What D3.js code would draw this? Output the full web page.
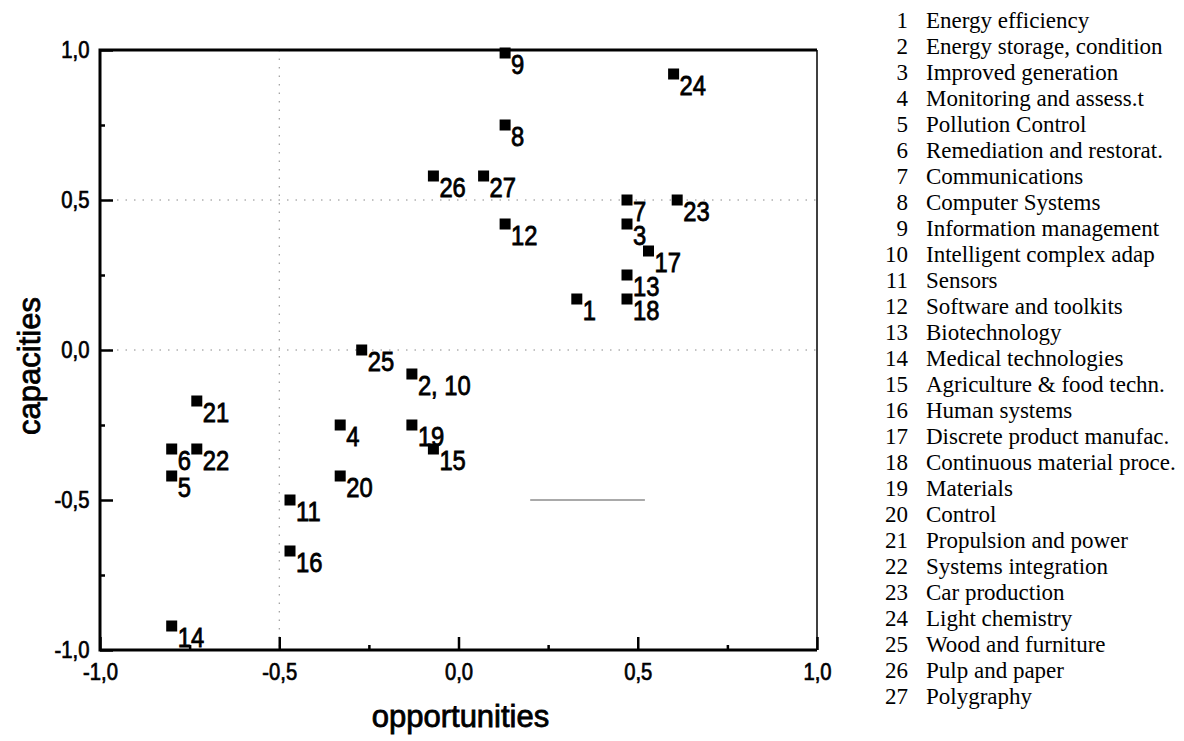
<!DOCTYPE html>
<html>
<head>
<meta charset="utf-8">
<script src="https://cdn.jsdelivr.net/npm/d3@7"></script>
<style>
  body { margin: 0; background: #fff; }
  svg { display: block; }
</style>
</head>
<body>
<div id="chart"></div>
<script>
// point labels as printed next to the squares
var labels = ["9", "24", "8", "26", "27", "7", "23", "12", "3", "17", "13", "18", "1",
              "25", "2, 10", "19", "15", "21", "6", "22", "5", "4", "20", "11", "16", "14"];
var opportunities = [0.13, 0.60, 0.13, -0.07, 0.07, 0.47, 0.61, 0.13, 0.47, 0.53, 0.47, 0.47, 0.33,
                     -0.27, -0.13, -0.13, -0.07, -0.73, -0.80, -0.73, -0.80, -0.33, -0.33, -0.47, -0.47, -0.80];
var capacities = [0.99, 0.92, 0.75, 0.58, 0.58, 0.50, 0.50, 0.42, 0.42, 0.33, 0.25, 0.17, 0.17,
                  0.00, -0.08, -0.25, -0.33, -0.17, -0.33, -0.33, -0.42, -0.25, -0.42, -0.50, -0.67, -0.92];

var majorTicks = [-1, -0.5, 0, 0.5, 1];
var minorTicks = [-0.75, -0.25, 0.25, 0.75];
var gridX = [-0.5];
var gridY = [0.5, 0];
// the -0.5 line only shows as a short stroke in the print
var gridSegY = [-0.5], gridSegFrom = [0.2], gridSegTo = [0.52];

var legendNames = ["Energy efficiency", "Energy storage, condition", "Improved generation",
  "Monitoring and assess.t", "Pollution Control", "Remediation and restorat.", "Communications",
  "Computer Systems", "Information management", "Intelligent complex adap", "Sensors",
  "Software and toolkits", "Biotechnology", "Medical technologies", "Agriculture & food techn.",
  "Human systems", "Discrete product manufac.", "Continuous material proce.", "Materials",
  "Control", "Propulsion and power", "Systems integration", "Car production",
  "Light chemistry", "Wood and furniture", "Pulp and paper", "Polygraphy"];

var width = 1184, height = 741;
var plotL = 100, plotR = 817, plotT = 50, plotB = 650;
var sans = "'Liberation Sans', Arial, sans-serif";
var squeeze = 0.88;

var svg = d3.select("div#chart").append("svg")
    .attr("width", width)
    .attr("height", height);

var x = d3.scaleLinear().domain([-1, 1]).range([plotL, plotR]);
var y = d3.scaleLinear().domain([-1, 1]).range([plotB, plotT]);

var loc = d3.formatLocale({decimal: ",", thousands: ".", grouping: [3], currency: ["", ""], minus: "-"});
var fmt = loc.format(".1f");

// faint dotted grid
svg.selectAll("line.gx").data(gridX).enter().append("line")
    .attr("x1", d => x(d)).attr("x2", d => x(d))
    .attr("y1", plotT).attr("y2", plotB)
    .attr("stroke", "#888").attr("stroke-width", 1).attr("stroke-dasharray", "1.5,7");
svg.selectAll("line.gy").data(gridY).enter().append("line")
    .attr("x1", plotL).attr("x2", plotR)
    .attr("y1", d => y(d)).attr("y2", d => y(d))
    .attr("stroke", "#888").attr("stroke-width", 1).attr("stroke-dasharray", "1.5,7");
svg.selectAll("line.gs").data(gridSegY).enter().append("line")
    .attr("x1", (d, i) => x(gridSegFrom[i])).attr("x2", (d, i) => x(gridSegTo[i]))
    .attr("y1", d => y(d)).attr("y2", d => y(d))
    .attr("stroke", "#555").attr("stroke-width", 1);

// axes with inward ticks
svg.append("g").attr("transform", "translate(0," + plotB + ")")
    .call(d3.axisBottom(x).tickValues(majorTicks).tickSizeInner(-13).tickSizeOuter(0)
          .tickPadding(14).tickFormat(fmt));
svg.append("g").attr("transform", "translate(" + plotL + ",0)")
    .call(d3.axisLeft(y).tickValues(majorTicks).tickSizeInner(-13).tickSizeOuter(0)
          .tickPadding(12).tickFormat(fmt));
svg.append("g").attr("transform", "translate(0," + plotB + ")")
    .call(d3.axisBottom(x).tickValues(minorTicks).tickSizeInner(-5).tickSizeOuter(0).tickFormat(""));
svg.append("g").attr("transform", "translate(" + plotL + ",0)")
    .call(d3.axisLeft(y).tickValues(minorTicks).tickSizeInner(-5).tickSizeOuter(0).tickFormat(""));

svg.selectAll(".domain").remove();
svg.selectAll(".tick line").attr("stroke", "#000").attr("stroke-width", 2.5);
svg.selectAll(".tick text")
    .attr("font-family", sans).attr("font-size", 23)
    .attr("fill", "#000").attr("stroke", "#000").attr("stroke-width", 0.7)
    .attr("transform", "scale(" + squeeze + ",1)");

// frame
svg.append("path")
    .attr("d", "M" + plotR + "," + plotT + "H" + plotL + "V" + plotB + "H" + plotR)
    .attr("fill", "none").attr("stroke", "#000").attr("stroke-width", 3);
svg.append("line")
    .attr("x1", plotR).attr("x2", plotR).attr("y1", plotT).attr("y2", plotB)
    .attr("stroke", "#000").attr("stroke-width", 1.5);

// points
var pts = d3.range(labels.length);
svg.selectAll("rect.pt").data(pts).enter().append("rect")
    .attr("x", i => x(opportunities[i]) - 5.5)
    .attr("y", i => y(capacities[i]) - 5.5)
    .attr("width", 11).attr("height", 11)
    .attr("fill", "#000");

svg.selectAll("text.pt").data(pts).enter().append("text")
    .attr("transform", i => "translate(" + (x(opportunities[i]) + 6) + "," + (y(capacities[i]) + 21) + ") scale(" + squeeze + ",1)")
    .attr("font-family", sans).attr("font-size", 27)
    .attr("fill", "#000").attr("stroke", "#000").attr("stroke-width", 0.8)
    .text(i => labels[i]);

// axis titles
svg.append("text")
    .attr("x", (plotL + plotR) / 2 + 2).attr("y", 727)
    .attr("text-anchor", "middle")
    .attr("font-family", sans).attr("font-size", 31)
    .attr("fill", "#000").attr("stroke", "#000").attr("stroke-width", 0.8)
    .text("opportunities");
svg.append("text")
    .attr("transform", "translate(40,366) rotate(-90)")
    .attr("text-anchor", "middle")
    .attr("font-family", sans).attr("font-size", 31)
    .attr("fill", "#000").attr("stroke", "#000").attr("stroke-width", 0.8)
    .text("capacities");

// legend list
var leg = svg.append("g").attr("font-family", "'Liberation Serif', 'Times New Roman', serif")
    .attr("font-size", 23).attr("fill", "#000");
var rows = leg.selectAll("g").data(legendNames).enter().append("g")
    .attr("transform", (d, i) => "translate(0," + (28 + i * 26) + ")");
rows.append("text").attr("x", 908).attr("text-anchor", "end").text((d, i) => i + 1);
rows.append("text").attr("x", 926).text(d => d);
</script>
</body>
</html>
